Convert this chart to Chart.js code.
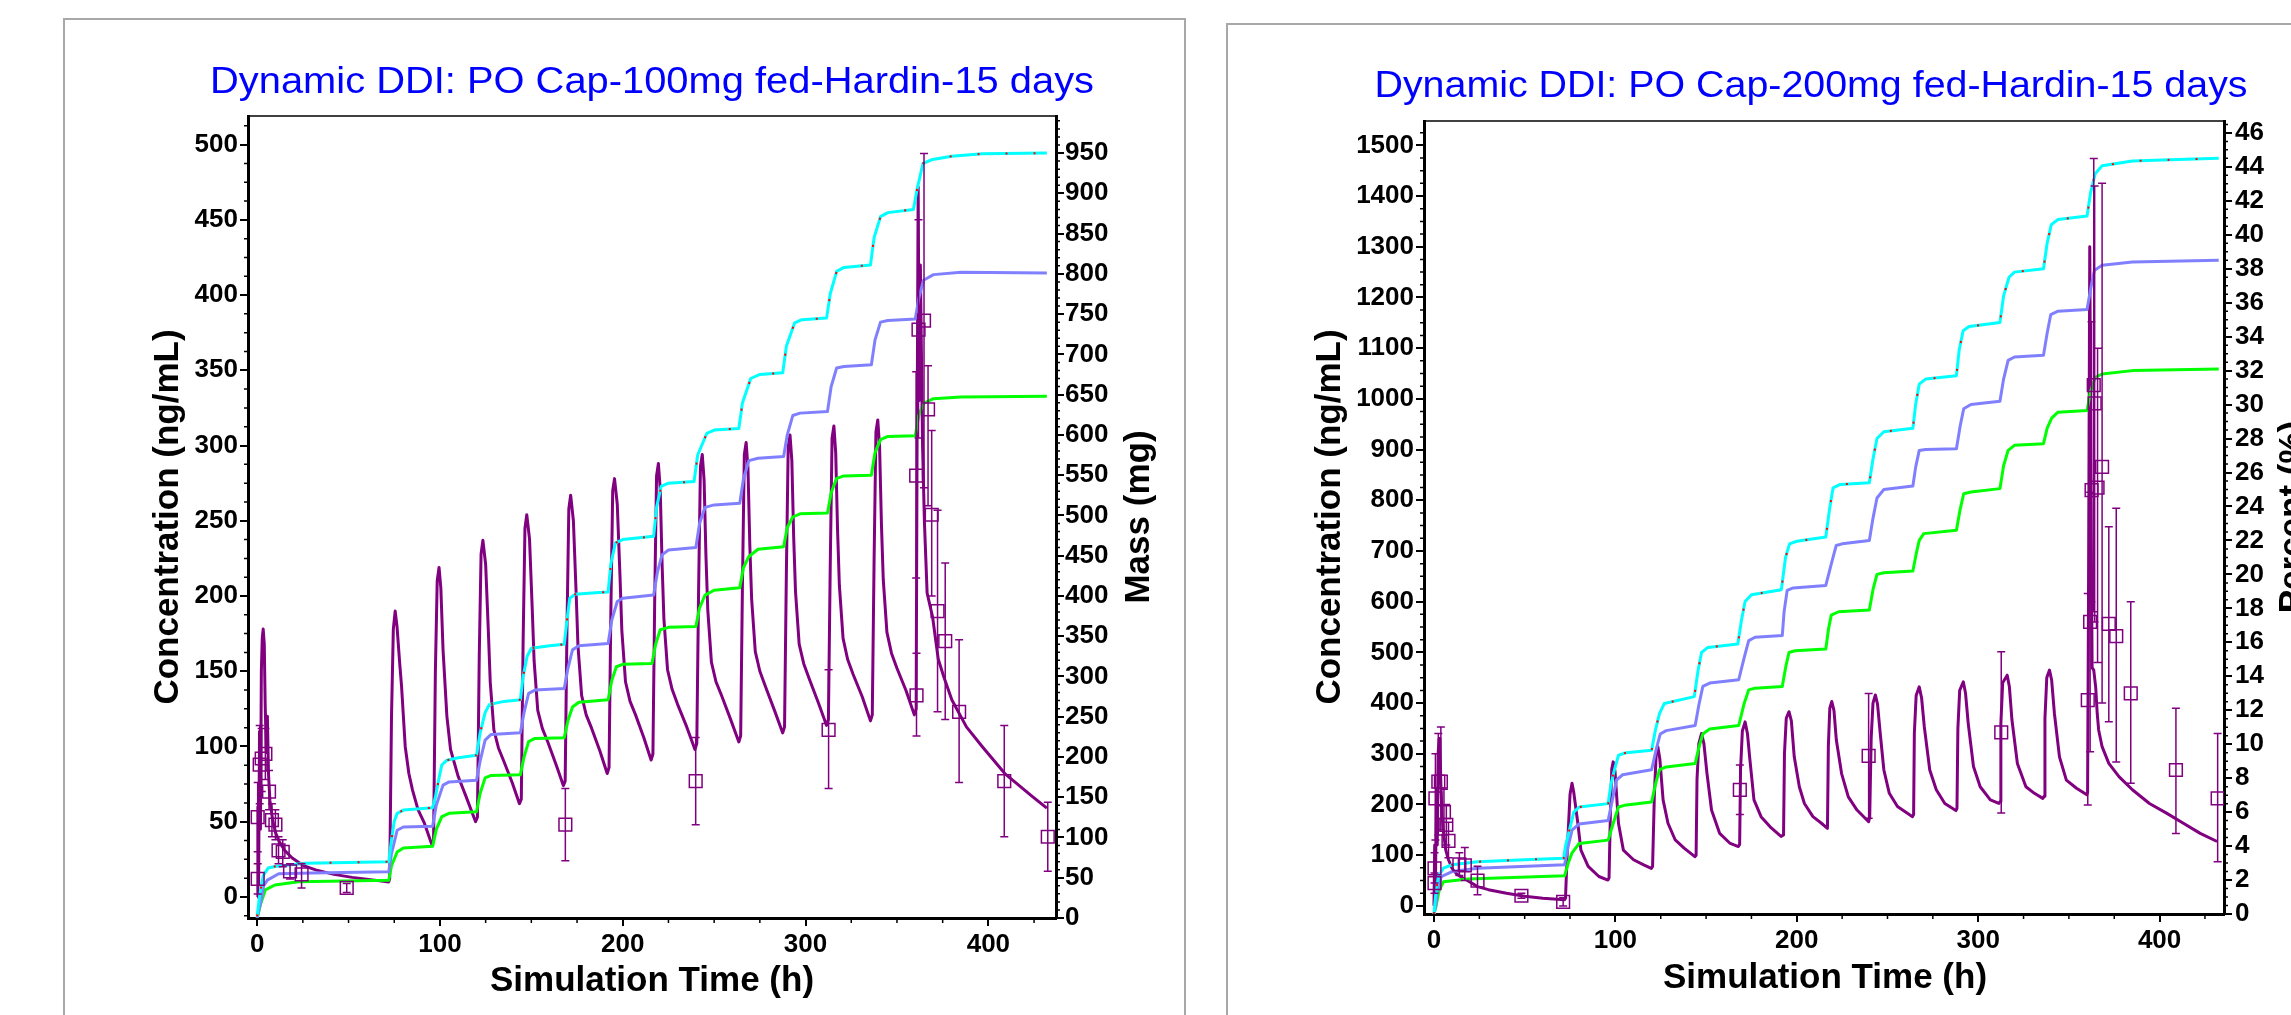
<!DOCTYPE html>
<html>
<head>
<meta charset="utf-8">
<script src="https://cdn.jsdelivr.net/npm/chart.js@4.4.1/dist/chart.umd.min.js"></script>
<style>
  html, body { margin: 0; padding: 0; background: #fff; overflow: hidden; }
  body { width: 2291px; height: 1015px; position: relative; }
  .panel { position: absolute; border: 2px solid #a8a8a8; border-bottom: none; background: #fff; }
  canvas { position: absolute; }
</style>
</head>
<body>
<div class="panel" style="left:63px; top:18px; width:1119px; height:1010px;"></div>
<div class="panel" style="left:1226px; top:23px; width:1080px; height:1010px;"></div>
<canvas id="chartA" width="1119" height="995" style="left:65px; top:20px;"></canvas>
<canvas id="chartB" width="1063" height="990" style="left:1228px; top:25px;"></canvas>
<script>
// ---- data ----
const xTicks = [0, 100, 200, 300, 400];
const concTicksA = [0, 50, 100, 150, 200, 250, 300, 350, 400, 450, 500];
const massTicksA = [0, 50, 100, 150, 200, 250, 300, 350, 400, 450, 500, 550, 600, 650, 700, 750, 800, 850, 900, 950];
const concTicksB = [0, 100, 200, 300, 400, 500, 600, 700, 800, 900, 1000, 1100, 1200, 1300, 1400, 1500];
const pctTicksB = [0, 2, 4, 6, 8, 10, 12, 14, 16, 18, 20, 22, 24, 26, 28, 30, 32, 34, 36, 38, 40, 42, 44, 46];

// 100 mg: plasma concentration (ng/mL) vs time (h)
const simConcA = [
  [0,0],[0.4,60],[0.8,8],[1.3,110],[1.8,45],[2.3,150],[2.8,172],[3.3,178],[3.9,168],[4.4,128],[5,96],[5.6,120],[6.2,82],[7,64],[8.5,51],[10,43],[12,37],[15,31],[19,26],[25,21],[32,18],[42,15],[52,13],[62,11.5],[72,10],
  [72.5,12],[73.5,120],[74.5,178],[75.5,190],[76.5,180],[78,155],[79,140],[81,100],[83,82],[85,71],[88,58],[91.5,49],[95.5,35],
  [96.5,37],[97.5,150],[98.5,210],[99.5,219],[100.5,205],[101.7,164],[103.8,120],[105.8,98],[110,80],[114.2,67],[119.5,50],
  [120.5,53],[121.5,160],[122.5,228],[123.5,237],[125,221],[126.5,176],[127.5,143],[129.5,111],[132,99],[135,90],[139.5,76],[143.5,62],
  [144.5,65],[145.5,170],[146.5,245],[147.5,254],[149,238],[150.5,191],[151.5,157],[153.5,124],[156,112],[159,103],[163.5,88],[167.5,74],
  [168.5,77],[169.5,180],[170.5,258],[171.5,267],[173,250],[174.5,202],[175.5,167],[177.5,134],[180,121],[183,112],[187.5,97],[191.5,82],
  [192.5,86],[193.5,190],[194.5,270],[195.5,278],[197,261],[198.5,213],[199.5,177],[201.5,143],[204,130],[207,121],[211.5,106],[215.5,91],
  [216.5,95],[217.5,200],[218.5,280],[219.5,288],[220.5,271],[221.5,222],[222.5,185],[224.5,151],[227,138],[230,128],[235,113],[239.5,98],
  [240.5,102],[241.5,205],[242.5,286],[243.5,294],[244.5,277],[245.5,227],[246.5,191],[248.5,156],[251,143],[254,134],[259,118],[263.5,103],
  [264.5,107],[265.5,210],[266.5,294],[267.5,302],[268.5,285],[269.5,234],[270.5,198],[272.5,163],[275,150],[278,140],[283,124],[287.5,109],
  [288.5,113],[289.5,215],[290.5,299],[291.5,307],[292.5,290],[293.5,239],[294.5,203],[296.5,168],[299,155],[302,145],[307,129],[311.5,114],
  [312.5,118],[313.5,220],[314.5,305],[315.5,313],[316.5,295],[317.5,244],[318.5,207],[320.5,172],[323,158],[326,148],[331,133],[335.5,117],
  [336.5,121],[337.5,225],[338.5,309],[339.5,317],[340.5,299],[341.5,248],[342.5,211],[344.5,176],[347,162],[350,152],[355,137],[359.5,121],
  [360.5,125],[361,300],[361.6,472],[362.2,330],[362.8,420],[363.4,360],[364,300],[365,250],[366.5,202],[369.5,186],[372.6,158],[375.7,146],[380,131],[388,113],[396.6,100],[409,82],[423.8,67],[432,59]
];
// observed: [time, mean, low, high]
const obsA = [
  [0.3,12,2,22],[0.3,53,30,76],[1.4,88,62,114],[2.5,92,70,112],[4.5,95,78,112],[6.5,70,58,84],[8.1,51,40,62],[10,48,38,58],
  [11.7,31,22,40],[14,30,20,38],[18,17,12,22],[24.3,15,6,22],[49,6,3,9],[168.6,48,24,72],[239.9,77,48,106],[312.6,111,72,151],
  [360.5,280,212,349],[360.7,134,107,162],[361.8,377,305,450],[364.8,383,272,494],[367,324,260,353],[369,254,200,310],
  [372.2,190,123,257],[376.4,170,118,222],[384,123,76,171],[408.7,77,40,114],[432.5,40,17,63]
];
// 100 mg: mass (mg)
const cyanA = [[0,2],[1.5,30],[3.4,53],[6,62],[9.7,64],[26.5,68],[50,69],[72,70],[73.5,97],[75,120],[76.6,130],[80,134],[96,137],[97.5,150],[99.6,175],[101,190],[103.8,196],[110,199],[120,202],[122,230],[124.7,255],[127,265],[135,269],[144,271],[145.5,300],[147.7,325],[150,335],[160,338],[168,340],[169.5,370],[171,397],[174,402],[185,404],[192,405],[193.5,440],[196,466],[200,470],[216.9,474],[218.5,510],[221,536],[225,540],[239,542],[241,575],[246,602],[250,606],[263.5,608],[265.5,640],[270,670],[275,675],[287.5,677],[289.5,710],[294,739],[298,743],[311.5,745],[313.5,775],[317,803],[321,808],[335.5,811],[337.5,845],[341,871],[345,876],[359,880],[361,905],[364.2,937],[369.5,942],[380,946],[396.6,949],[432,950]];
const blueA = [[0,0],[2,20],[3.6,40],[5.6,47],[11.8,55],[30,56],[72,57.5],[73.5,80],[76.6,109],[80,113],[96,114],[98,140],[101.7,165],[105,169],[120,171],[122,195],[124.7,221],[128,228],[144,230],[146,255],[148.5,279],[152,283],[168,285],[170,310],[172.5,333],[176,338],[192,341],[194,370],[197,393],[200,397],[216.9,401],[219,430],[221.5,451],[225,457],[240,460],[242,490],[245,510],[250,513],[264,515],[266,545],[269,568],[274,571],[288,573],[290,600],[293,624],[297,627],[312,629],[314,660],[317,683],[321,685],[336,687],[338,718],[341,740],[345,742],[360,744],[362,770],[364.5,792],[370,799],[385,802],[432,801]];
const greenA = [[0,0],[2,18],[4.5,35],[9.7,41],[22.6,45],[72,47],[73.5,65],[76.6,82],[80,87],[96,89],[98,110],[101,126],[105,130],[120,132],[122,155],[124.7,174],[128,177],[144,178],[146,200],[148.5,219],[152,223],[168,224],[170,245],[172.5,262],[176,268],[192,271],[194,295],[196.5,312],[200,315],[216,316],[218,340],[220.5,358],[225,361],[240,362],[242,385],[245,401],[250,407],[264,410],[266,435],[269,449],[274,458],[288,461],[290,485],[293,498],[297,502],[312,503],[314,528],[317,546],[321,549],[336,550],[338,578],[341,594],[345,598],[360,599],[362,625],[364.5,639],[370,645],[385,647],[432,648]];

// 200 mg: plasma concentration (ng/mL)
const simConcB = [
  [0,0],[0.4,120],[0.8,30],[1.3,230],[1.8,120],[2.3,300],[2.8,330],[3.3,318],[3.8,240],[4.4,180],[5.3,143],[6.5,110],[8,91],[10,74],[12.2,64],[15,57],[18,51],[24,38],[30,32],[40,25],[50,19],[60,15],[72,12],
  [72.5,15],[73.5,110],[75,220],[76.1,242],[77,225],[79.3,163],[81,110],[85,78],[90.9,58],[95.9,51],
  [96.5,55],[97.3,190],[98,270],[98.8,284],[99.8,265],[101.7,163],[104.4,110],[110,91],[115.6,81],[119.8,74],
  [120.5,78],[121.5,220],[122.5,300],[123.4,314],[124.5,290],[126.3,209],[129,163],[133,130],[137.9,114],[143.8,97],
  [144.5,100],[145,250],[146,320],[147.5,340],[148.8,320],[150.5,261],[153,189],[157.5,143],[163,124],[167.8,117],
  [168.5,121],[169,270],[170,345],[171.5,363],[172.8,340],[174,294],[176.4,209],[180.3,176],[185.3,156],[191.3,137],
  [192.7,140],[193.2,300],[194.2,370],[195.7,383],[197,365],[198.6,294],[201.4,235],[204.2,202],[208.9,176],[213.6,163],[216.9,153],
  [217.4,315],[218.2,390],[219.3,403],[220.5,385],[221.8,327],[224.7,261],[228.4,215],[233.2,189],[239.6,166],
  [240.2,175],[241,330],[242,400],[243.3,416],[244.5,398],[246,340],[248,268],[251,222],[255.5,196],[263.8,176],
  [264.4,180],[264.8,340],[265.8,415],[267.5,432],[268.8,410],[270.3,353],[273.3,268],[276.9,229],[281.6,202],[287.7,188],
  [288.3,192],[288.8,350],[289.8,425],[291.8,442],[293,420],[294.5,360],[297.4,275],[301.1,235],[306.7,209],[311.4,202],
  [312.2,206],[312.5,360],[313.5,440],[316,455],[317.2,432],[318.6,367],[321.6,281],[326.3,235],[331,222],[335.6,212],
  [336.3,216],[336.8,370],[337.8,450],[339.3,465],[340.5,445],[342,380],[344.8,294],[348.6,248],[354.2,232],[359.9,219],
  [360.3,224],[360.8,600],[361.5,1300],[362.2,800],[362.8,470],[363.7,465],[364.8,430],[365.6,380],[366.4,347],[368.3,314],[372,281],[377.6,255],[385,229],[394.4,202],[403.8,183],[413.1,163],[422.4,143],[431.7,127]
];
const obsB = [
  [0.3,45,25,65],[0.3,74,45,105],[0.8,212,130,300],[2.4,245,140,340],[3.8,245,150,353],[5.5,185,140,230],[6.8,160,120,200],[8,128,95,165],
  [14,82,60,105],[17,80,50,115],[24,50,22,78],[48.2,20,15,25],[71.2,8,0,16],[168.6,229,180,278],[239.6,296,173,419],[312.7,342,183,501],
  [360.4,406,199,616],[361.7,560,304,816],[362.5,820,600,1152],[363.7,1027,580,1474],[364.2,991,560,1420],[365.8,825,480,1100],[368.3,866,400,1425],
  [372,556,363,748],[376.1,532,284,784],[384.1,419,242,600],[409,268,143,390],[432,212,87,340]
];
// 200 mg: percent (%)
const cyanB = [[0,0],[1,1.2],[2.4,2.2],[5.2,2.7],[10.1,2.9],[24,3.08],[50,3.2],[71.5,3.28],[72.5,4],[74.2,4.75],[77.1,6.0],[80,6.3],[96,6.5],[97.5,7.6],[99.5,8.5],[101.7,9.35],[106,9.5],[120,9.65],[122,10.8],[124.3,11.8],[127,12.4],[143.5,12.8],[145.5,14.3],[147.5,15.4],[151,15.7],[167.5,15.9],[169.5,17.3],[171.5,18.4],[175,18.8],[191.5,19.1],[193.8,21.0],[196,21.8],[200,21.95],[216,22.2],[218,23.8],[220,25.1],[224,25.3],[240,25.4],[242,26.8],[244.2,28.0],[248,28.4],[264,28.6],[265.5,30.0],[267.5,31.2],[271,31.5],[288,31.7],[289.5,33.2],[291.7,34.35],[295,34.6],[312,34.84],[314,36.4],[317,37.5],[320,37.8],[336,38.0],[338,39.5],[340.3,40.6],[344,40.9],[360,41.1],[362,42.5],[364.5,43.6],[368.3,44.06],[385,44.35],[401.6,44.4],[432.6,44.5]];
const blueB = [[0,0],[1,0.5],[2,1.4],[4,2.2],[10,2.5],[24,2.7],[72,2.9],[74,4.0],[76.1,4.94],[80,5.3],[96,5.5],[98.5,6.8],[100.7,7.9],[104,8.2],[120,8.5],[122.5,9.7],[124.7,10.6],[128,10.8],[144,11.1],[146,12.3],[148.2,13.4],[152,13.6],[168,13.8],[171,15.1],[173.5,16.1],[177,16.3],[192,16.4],[193,17.8],[194.7,19.06],[198,19.2],[216,19.35],[219,20.6],[221.7,21.7],[225,21.8],[240,22.0],[242,23.3],[244.2,24.5],[248,25.0],[264,25.2],[265.5,26.3],[267.5,27.3],[271,27.35],[288,27.4],[290,28.7],[292,29.75],[296,30.0],[312,30.2],[314,31.5],[316.5,32.6],[320,32.8],[336,32.9],[338,34.2],[340,35.3],[344,35.5],[360,35.6],[362,36.8],[364,37.9],[368.3,38.2],[385,38.4],[432.6,38.5]];
const greenB = [[0,0],[1.2,0.5],[2.9,1.4],[5.2,1.9],[18.9,2.06],[72,2.25],[74,3.0],[76.1,3.6],[80,4.15],[96,4.35],[99,5.4],[101.7,6.3],[105,6.4],[120,6.6],[122,7.6],[124.3,8.5],[128,8.66],[144,8.86],[146,9.8],[148.2,10.6],[152,10.9],[168,11.1],[171,12.4],[173.5,13.2],[177,13.3],[192,13.4],[194,14.6],[195.7,15.4],[199,15.5],[216,15.6],[217.5,16.8],[219,17.6],[223,17.8],[240,17.9],[242,19.1],[244.2,20.0],[248,20.1],[264,20.2],[266,21.3],[267.5,22.0],[270,22.4],[288,22.6],[290,23.8],[292,24.75],[296,24.85],[312,25.05],[314,26.4],[316.5,27.3],[320,27.6],[336,27.7],[338,28.6],[340.5,29.2],[344,29.55],[360,29.65],[362,30.8],[364.5,31.6],[368.3,31.8],[385,32.0],[432.6,32.1]];

// ---- drawing ----
const PURPLE = '#800080';
const FONT = '"Liberation Sans", Arial, sans-serif';
Chart.defaults.font.family = FONT;
Chart.defaults.color = '#000';

const pts = arr => arr.map(([x, y]) => ({ x, y }));
const tickFont = { size: 26, weight: 'bold', family: FONT };

function minorTicks(ctx, scale, step, len, side) {
  const majors = scale.ticks.map(t => t.value);
  ctx.beginPath();
  for (let v = Math.ceil(scale.min / step) * step; v <= scale.max; v += step) {
    if (majors.some(m => Math.abs(m - v) < 1e-6)) continue;
    const p = scale.getPixelForValue(v);
    if (side === 'bottom') { ctx.moveTo(p, scale.top); ctx.lineTo(p, scale.top + len); }
    else if (side === 'left') { ctx.moveTo(scale.right - len, p); ctx.lineTo(scale.right, p); }
    else { ctx.moveTo(scale.left, p); ctx.lineTo(scale.left + len, p); }
  }
  ctx.stroke();
}

function rotatedText(ctx, text, x, y) {
  ctx.save();
  ctx.translate(x, y);
  ctx.rotate(-Math.PI / 2);
  ctx.textAlign = 'center';
  ctx.textBaseline = 'alphabetic';
  ctx.fillText(text, 0, 0);
  ctx.restore();
}

function makeDecor(o) {
  return {
    id: 'decor',
    afterDatasetsDraw(chart) {
      const ctx = chart.ctx, a = chart.chartArea;
      const { x, y } = chart.scales;
      ctx.save();
      ctx.beginPath();
      ctx.rect(a.left, a.top, a.right - a.left, a.bottom - a.top);
      ctx.clip();
      ctx.strokeStyle = PURPLE;
      ctx.lineWidth = 1.5;
      ctx.beginPath();
      o.obs.forEach(([t, m, lo, hi]) => {
        const px = x.getPixelForValue(t), p1 = y.getPixelForValue(lo), p2 = y.getPixelForValue(hi);
        ctx.moveTo(px, p1); ctx.lineTo(px, p2);
        ctx.moveTo(px - 4, p1); ctx.lineTo(px + 4, p1);
        ctx.moveTo(px - 4, p2); ctx.lineTo(px + 4, p2);
      });
      ctx.stroke();
      ctx.restore();
    },
    afterDraw(chart) {
      const ctx = chart.ctx, a = chart.chartArea;
      const { x, y, y2 } = chart.scales;
      ctx.save();
      // top frame
      ctx.strokeStyle = '#000';
      ctx.lineWidth = 1.5;
      ctx.beginPath();
      ctx.moveTo(a.left, a.top); ctx.lineTo(a.right, a.top);
      ctx.stroke();
      // minor ticks
      minorTicks(ctx, x, 25, 5, 'bottom');
      minorTicks(ctx, y, o.yMinor, 4, 'left');
      minorTicks(ctx, y2, o.y2Minor, 4, 'right');
      // chart title
      ctx.fillStyle = '#0000ff';
      ctx.font = '37px ' + FONT;
      const w = ctx.measureText(o.title).width;
      ctx.save();
      ctx.translate(o.titleX, o.titleY);
      ctx.scale(o.titleW / w, 1);
      ctx.textAlign = 'center';
      ctx.textBaseline = 'alphabetic';
      ctx.fillText(o.title, 0, 0);
      ctx.restore();
      // axis titles
      ctx.fillStyle = '#000';
      ctx.font = 'bold 35px ' + FONT;
      ctx.textAlign = 'center';
      ctx.textBaseline = 'alphabetic';
      ctx.fillText('Simulation Time (h)', o.xTitleX, o.xTitleY);
      rotatedText(ctx, 'Concentration (ng/mL)', o.yTitleX, o.axisMidY);
      rotatedText(ctx, o.y2Title, o.y2TitleX, o.axisMidY);
      ctx.restore();
    }
  };
}

function buildChart(id, o) {
  const line = (data, color, axis, order, extra) => Object.assign({
    data: pts(data), showLine: true, borderColor: color, borderWidth: 3,
    pointRadius: 0, borderJoinStyle: 'round', yAxisID: axis, order
  }, extra || {});
  const axisCommon = (ticks, pad) => ({
    type: 'linear',
    afterBuildTicks: s => { s.ticks = ticks.map(v => ({ value: v })); },
    ticks: { font: tickFont, color: '#000', padding: pad, autoSkip: false, maxRotation: 0, callback: v => String(v) },
    grid: { display: true, drawOnChartArea: false, drawTicks: true, tickLength: 8, color: '#000', lineWidth: 2 },
    border: { display: true, color: '#000', width: 3 }
  });
  return new Chart(document.getElementById(id), {
    type: 'scatter',
    data: {
      datasets: [
        line(o.sim, PURPLE, 'y', 5),
        line(o.cyan, '#00ffff', 'y2', 3),
        line(o.blue, '#8080ff', 'y2', 3),
        line(o.green, '#00ff00', 'y2', 3),
        line(o.cyan, '#ff0000', 'y2', 2, { borderWidth: 2, borderDash: [2, 26] }),
        {
          data: o.obs.map(([t, m]) => ({ x: t, y: m })), showLine: false, pointStyle: 'rect',
          pointRadius: 9, borderColor: PURPLE, borderWidth: 1.5, backgroundColor: 'rgba(0,0,0,0)',
          yAxisID: 'y', order: 0
        }
      ]
    },
    options: {
      responsive: false,
      animation: false,
      devicePixelRatio: 1,
      events: [],
      layout: { padding: { top: o.padTop, left: 0, right: 0, bottom: 0 } },
      plugins: { legend: { display: false }, tooltip: { enabled: false } },
      scales: {
        x: Object.assign(axisCommon(xTicks, 3), { position: 'bottom', min: o.xMin, max: o.xMax,
          afterFit: s => { s.height = o.xH; } }),
        y: Object.assign(axisCommon(o.yTicks, 2), { position: 'left', min: o.yMin, max: o.yMax,
          afterFit: s => { s.width = o.yW; } }),
        y2: Object.assign(axisCommon(o.y2Ticks, o.y2Pad), { position: 'right', min: 0, max: o.y2Max,
          afterFit: s => { s.width = o.y2W; } })
      }
    },
    plugins: [makeDecor(o)]
  });
}

buildChart('chartA', {
  sim: simConcA, obs: obsA, cyan: cyanA, blue: blueA, green: greenA,
  yTicks: concTicksA, y2Ticks: massTicksA,
  xMin: -5, xMax: 437, yMin: -14, yMax: 519, y2Max: 996,
  padTop: 96, yW: 183, y2W: 128, xH: 97, y2Pad: 1,
  yMinor: 12.5, y2Minor: 10,
  title: 'Dynamic DDI: PO Cap-100mg fed-Hardin-15 days', titleX: 587, titleY: 73, titleW: 884,
  xTitleX: 587, xTitleY: 971, yTitleX: 113, y2Title: 'Mass (mg)', y2TitleX: 1084, axisMidY: 497
});

buildChart('chartB', {
  sim: simConcB, obs: obsB, cyan: cyanB, blue: blueB, green: greenB,
  yTicks: concTicksB, y2Ticks: pctTicksB,
  xMin: -5.5, xMax: 435.5, yMin: -16, yMax: 1548, y2Max: 46.7,
  padTop: 96, yW: 196, y2W: 67, xH: 101, y2Pad: 3,
  yMinor: 25, y2Minor: 0.5,
  title: 'Dynamic DDI: PO Cap-200mg fed-Hardin-15 days', titleX: 583, titleY: 72, titleW: 873,
  xTitleX: 597, xTitleY: 963, yTitleX: 112, y2Title: 'Percent (%)', y2TitleX: 1075, axisMidY: 492
});
</script>
</body>
</html>
